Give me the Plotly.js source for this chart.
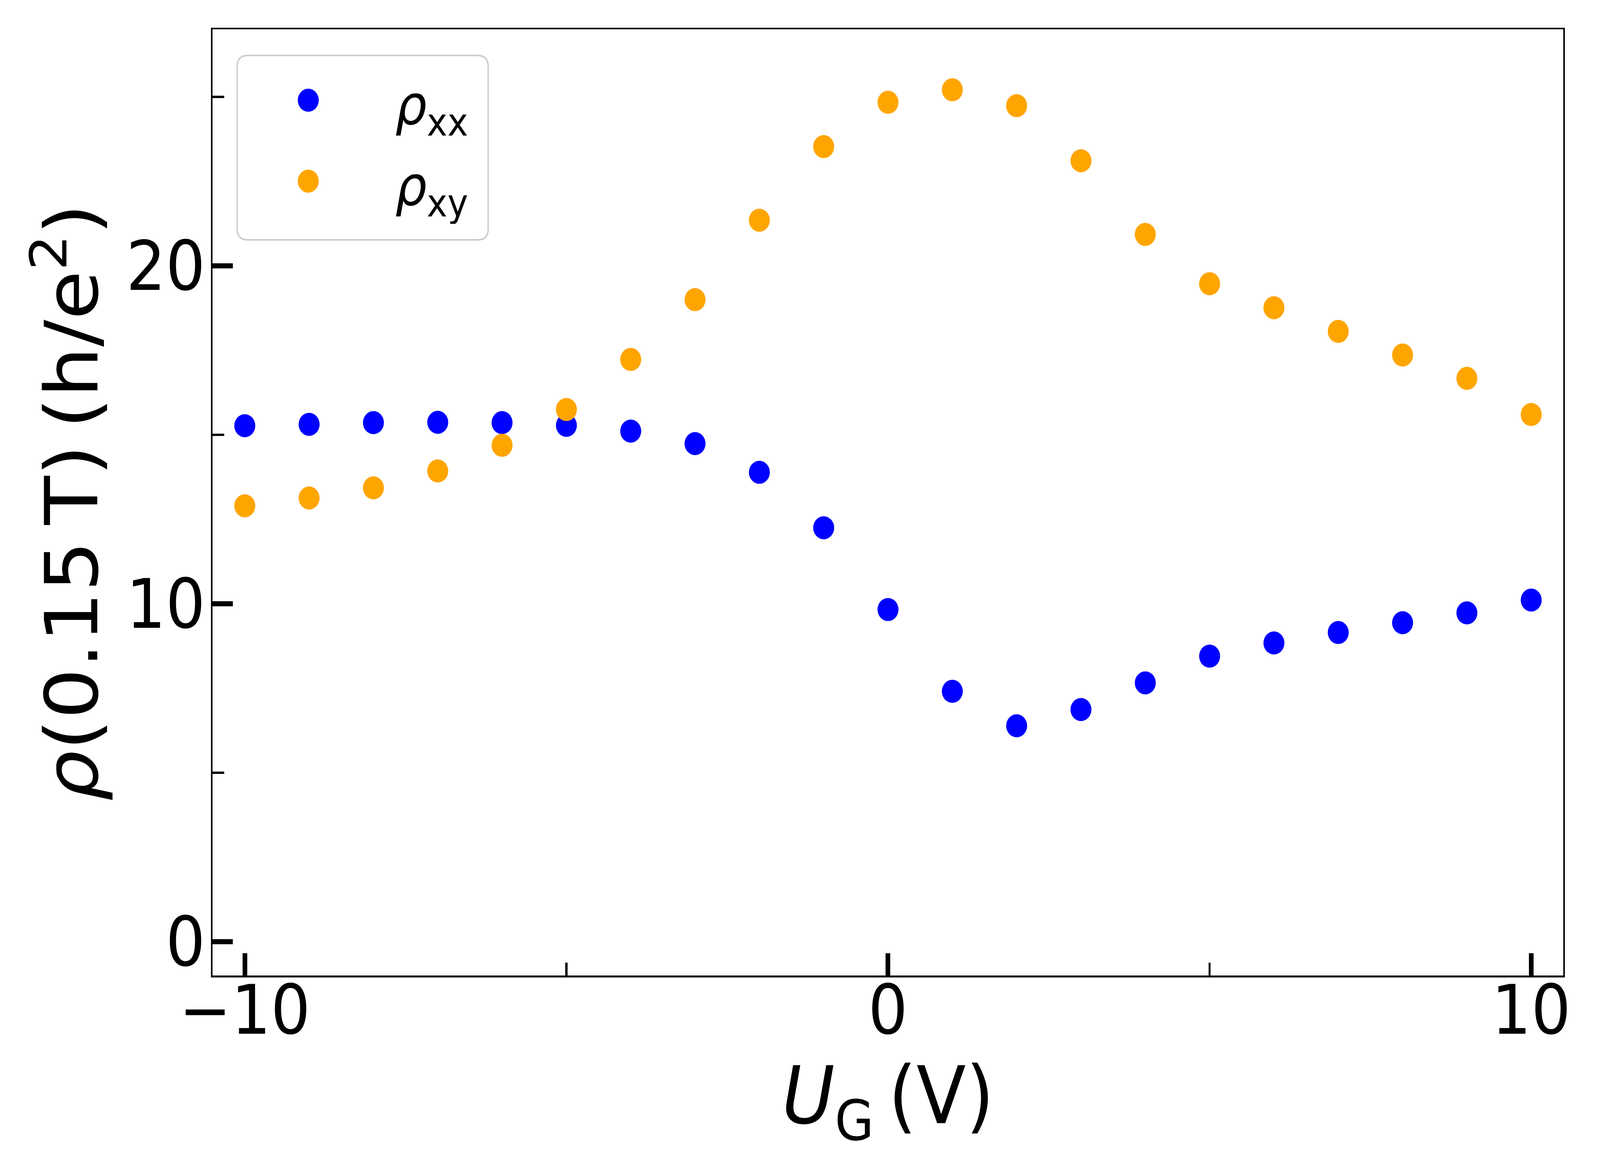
<!DOCTYPE html>
<html>
<head>
<meta charset="utf-8">
<script src="https://cdn.plot.ly/plotly-3.0.1.min.js"></script>
<style>html,body{margin:0;padding:0;background:#fff;overflow:hidden;}#chart{transform-origin:0 0;}</style>
</head>
<body>
<div id="chart"></div>
<script>
// Gate voltage U_G (V)
const gateVoltage = [-10, -9, -8, -7, -6, -5, -4, -3, -2, -1, 0, 1, 2, 3, 4, 5, 6, 7, 8, 9, 10];
// rho_xx at 0.15 T (h/e^2)
const rhoXX = [15.27, 15.31, 15.36, 15.37, 15.36, 15.28, 15.11, 14.74, 13.89, 12.25, 9.83, 7.41, 6.39, 6.87, 7.66, 8.45, 8.84, 9.15, 9.44, 9.73, 10.11];
// rho_xy at 0.15 T (h/e^2)
const rhoXY = [12.90, 13.13, 13.43, 13.93, 14.69, 15.75, 17.23, 19.00, 21.35, 23.53, 24.84, 25.21, 24.74, 23.11, 20.93, 19.47, 18.76, 18.06, 17.36, 16.67, 15.60];
const seriesNames = ['<i>ρ</i><sub>xx</sub>', '<i>ρ</i><sub>xy</sub>'];
const seriesColors = ['#0000ff', '#ffa500'];
const xTickVals = [-10, 0, 10];
const yTickVals = [0, 10, 20];
const xTitle = '<i>U</i><sub>G</sub>\u2009(V)';
const yTitle = '<i>ρ</i>(0.15\u2009T)\u2009(h/e<sup>2</sup>)';

// The chart is designed for a 4500x3000 page; if the real viewport differs,
// the whole drawing is scaled to fill it.
const W0 = 4500, H0 = 3000;
const sx = (window.innerWidth || W0) / W0, sy = (window.innerHeight || H0) / H0;
const chartDiv = document.getElementById('chart');
if (Math.abs(sx - 1) > 1e-3 || Math.abs(sy - 1) > 1e-3) {
  chartDiv.style.transform = 'scale(' + sx + ',' + sy + ')';
}

const FONT = 'DejaVu Sans, Liberation Sans, sans-serif';
const MARKER = 59;
const M = {l: 598, r: 103, t: 75, b: 503};
const plotW = W0 - M.l - M.r, plotH = H0 - M.t - M.b;

const traces = [rhoXX, rhoXY].map((vals, i) => ({
  x: gateVoltage, y: vals, type: 'scatter', mode: 'markers',
  name: '<span style="font-size:140px">\u00a0' + seriesNames[i] + '\u00a0</span>',
  marker: {color: seriesColors[i], size: MARKER, line: {width: 0}}
}));

function axisCommon() {
  return {
    showgrid: false, zeroline: false,
    showline: true, linecolor: '#000', linewidth: 4.5, mirror: true,
    ticks: 'inside', ticklen: 57, tickwidth: 13, tickcolor: '#000',
    tickfont: {family: FONT, size: 175, color: '#000'},
    minor: {dtick: 5, ticks: 'inside', ticklen: 33, tickwidth: 6, tickcolor: '#000', showgrid: false}
  };
}

// rounded legend frame (matplotlib style), in paper fractions
const frame = {x0: (667 - M.l) / plotW, x1: (1373 - M.l) / plotW,
               y0: (H0 - M.b - 614) / plotH, y1: (H0 - M.b - 142) / plotH};
const rx = 29 / plotW, ry = 29 / plotH;
const framePath = [
  'M', frame.x0 + rx, frame.y1,
  'L', frame.x1 - rx, frame.y1, 'Q', frame.x1, frame.y1, frame.x1, frame.y1 - ry,
  'L', frame.x1, frame.y0 + ry, 'Q', frame.x1, frame.y0, frame.x1 - rx, frame.y0,
  'L', frame.x0 + rx, frame.y0, 'Q', frame.x0, frame.y0, frame.x0, frame.y0 + ry,
  'L', frame.x0, frame.y1 - ry, 'Q', frame.x0, frame.y1, frame.x0 + rx, frame.y1, 'Z'
].join(' ');

const layout = {
  width: W0, height: H0,
  paper_bgcolor: '#fff', plot_bgcolor: '#fff',
  margin: {l: M.l, r: M.r, t: M.t, b: M.b, pad: 0},
  font: {family: FONT, color: '#000'},
  showlegend: true,
  shapes: [{type: 'path', xref: 'paper', yref: 'paper', path: framePath, layer: 'above',
            line: {color: '#cccccc', width: 4}, fillcolor: 'rgba(0,0,0,0)'}],
  xaxis: Object.assign(axisCommon(), {
    range: [-10.5, 10.5], tickvals: xTickVals, ticklabelstandoff: -65,
    title: {text: xTitle, font: {family: FONT, size: 203, color: '#000'}, standoff: 39}
  }),
  yaxis: Object.assign(axisCommon(), {
    range: [-1, 27], tickvals: yTickVals, ticklabelstandoff: -19,
    title: {text: yTitle, font: {family: FONT, size: 205, color: '#000'}, standoff: 12}
  }),
  legend: {
    x: frame.x0, y: frame.y1 - 6 / plotH, xanchor: 'left', yanchor: 'top',
    bgcolor: 'rgba(0,0,0,0)', borderwidth: 0,
    font: {family: FONT, size: 157, color: '#000'},
    itemwidth: 390
  }
};

Plotly.newPlot(chartDiv, traces, layout, {staticPlot: true, displayModeBar: false}).then(gd => {
  // Plotly caps legend symbols at 16px; enlarge them to the trace marker size
  gd.querySelectorAll('.legend .legendpoints path.scatterpts').forEach(p => {
    const t = p.getAttribute('transform') || '';
    p.setAttribute('transform', t + ' scale(' + (MARKER / 16) + ')');
  });
});
</script>
</body>
</html>
